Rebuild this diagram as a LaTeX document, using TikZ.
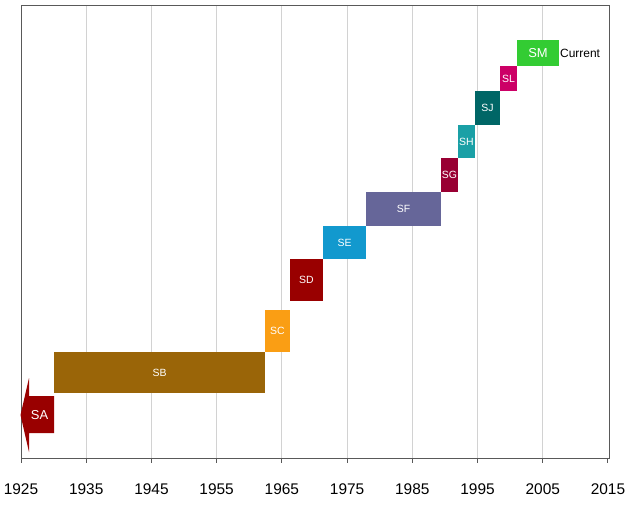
\documentclass[tikz,border=0pt]{standalone}
\usepackage{fontspec}
\setmainfont{Liberation Sans}
\usepackage{xcolor}
\usetikzlibrary{positioning}
\definecolor{eraA}{HTML}{990000}
\definecolor{eraB}{HTML}{9A6508}
\definecolor{eraC}{HTML}{FA9E14}
\definecolor{eraD}{HTML}{990000}
\definecolor{eraE}{HTML}{1299CE}
\definecolor{eraF}{HTML}{666699}
\definecolor{eraG}{HTML}{990033}
\definecolor{eraH}{HTML}{1AA0A6}
\definecolor{eraJ}{HTML}{006666}
\definecolor{eraL}{HTML}{CC0066}
\definecolor{eraM}{HTML}{33CC33}
\tikzset{
  erabox/.style    = {draw=none, inner sep=0pt, outer sep=0pt, text=white,
                      font=\fontsize{10.5}{10.5}\selectfont},
  gridline/.style  = {draw=gray!35, line width=0.8bp},
  axisline/.style  = {draw=gray!70!black, line width=1bp},
  yearlabel/.style = {inner sep=0pt, font=\fontsize{15.5}{15.5}\selectfont}
}

\begin{document}
\begin{tikzpicture}[x=1bp, y=-1bp]

    \useasboundingbox (0,0) rectangle (630,509);

    % ── Grid and frame ───────────────────────────────────────────────────
    \foreach \i in {1,...,8}
      \draw[gridline] (21+\i*65.22,6) -- (21+\i*65.22,458);
    \draw[axisline] (21,6) rectangle (609,458);

    % ── Year axis ────────────────────────────────────────────────────────
    \foreach \yr [count=\i from 0] in {1925,1935,...,2015} {
      \draw[axisline] (21+\i*65.22,458) -- ++(0,5);
      \node[yearlabel] (y\yr) at (21+\i*65.22,489) {\yr};
    }

    % ── Eras ─────────────────────────────────────────────────────────────
    % SA: open-ended to the left
    \fill[eraA] (20.5,415) -- (29,378) -- (29,396) -- (54,396) -- (54,433)
                -- (29,433) -- (29,452) -- cycle;
    \node[erabox, font=\fontsize{13}{13}\selectfont] (sa) at (39.5,415) {SA};

    \node[erabox, fill=eraB, minimum width=211bp, minimum height=41bp] (sb) at (159.5,372.5) {SB};
    \node[erabox, fill=eraC, minimum width=25bp,  minimum height=42bp] (sc) at (277.5,331)   {SC};
    \node[erabox, fill=eraD, minimum width=33bp,  minimum height=42bp] (sd) at (306.5,280)   {SD};
    \node[erabox, fill=eraE, minimum width=43bp,  minimum height=33bp] (se) at (344.5,242.5) {SE};
    \node[erabox, fill=eraF, minimum width=75bp,  minimum height=34bp] (sf) at (403.5,209)   {SF};
    \node[erabox, fill=eraG, minimum width=17bp,  minimum height=34bp] (sg) at (449.5,175)   {SG};
    \node[erabox, fill=eraH, minimum width=17bp,  minimum height=33bp] (sh) at (466.5,141.5) {SH};
    \node[erabox, fill=eraJ, minimum width=25bp,  minimum height=34bp] (sj) at (487.5,108)   {SJ};
    \node[erabox, fill=eraL, minimum width=17bp,  minimum height=25bp] (sl) at (508.5,78.5)  {SL};
    \node[erabox, fill=eraM, minimum width=42bp,  minimum height=26bp,
          font=\fontsize{13}{13}\selectfont] (sm) at (538,53) {SM};

    \node[right=1bp of sm, inner sep=0pt, font=\fontsize{12}{12}\selectfont] (cur) {Current};

\end{tikzpicture}
\end{document}
